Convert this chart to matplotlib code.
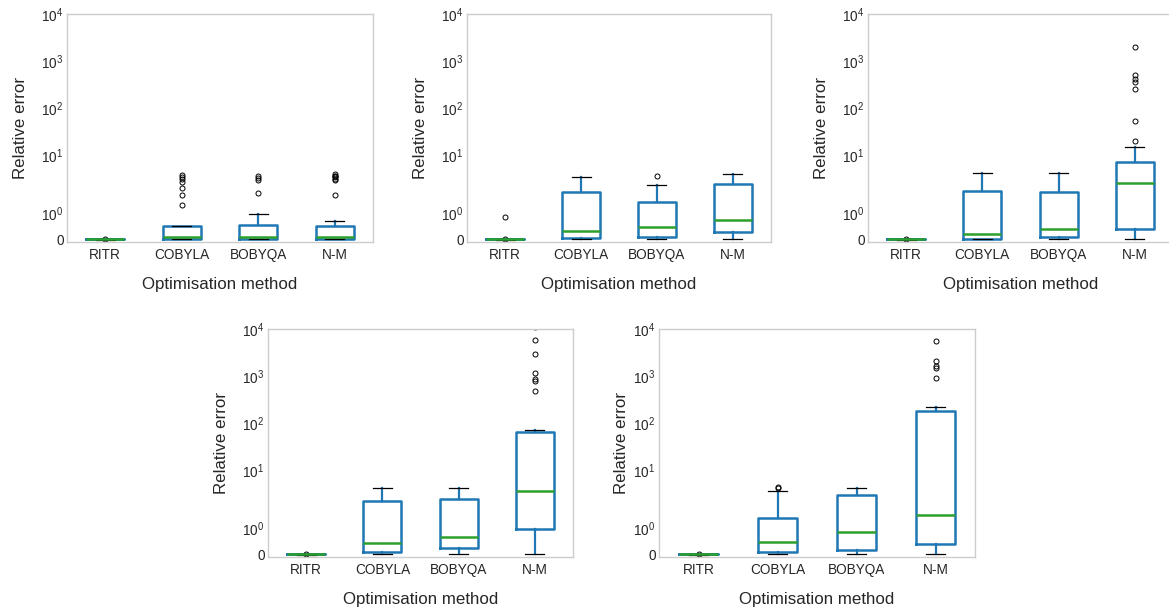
"""Box plots of relative error for four optimisation methods, five test cases."""
import matplotlib
matplotlib.use('Agg')
import matplotlib.pyplot as plt

BLUE = '#1f77b4'
GREEN = '#2ca02c'
TEXT = '#262626'
EDGE = '#cccccc'

W, H = 1169, 607
DPI = 100

plt.rcParams.update({
    'font.family': ['Liberation Sans', 'DejaVu Sans'],
    'mathtext.default': 'regular',
    'text.color': TEXT,
    'axes.labelcolor': TEXT,
    'xtick.color': TEXT,
    'ytick.color': TEXT,
    'xtick.major.size': 0,
    'ytick.major.size': 0,
    'xtick.minor.size': 0,
    'ytick.minor.size': 0,
    'xtick.major.pad': 4.5,
    'ytick.major.pad': 2.5,
    'xtick.labelsize': 9.8,
    'ytick.labelsize': 9.8,
    'axes.labelsize': 12.2,
    'axes.edgecolor': EDGE,
    'axes.linewidth': 1.0,
})

METHODS = ['RITR', 'COBYLA', 'BOBYQA', 'N-M']

# one row per test case, one entry per method
MEDIANS = [
    [0.02, 0.10, 0.10, 0.09],
    [0.02, 0.32, 0.47, 0.75],
    [0.02, 0.22, 0.40, 2.45],
    [0.02, 0.45, 0.69, 3.52],
    [0.02, 0.48, 0.86, 1.53],
]
Q1 = [
    [0.01, 0.03, 0.03, 0.03],
    [0.01, 0.05, 0.10, 0.28],
    [0.01, 0.03, 0.10, 0.40],
    [0.01, 0.09, 0.24, 0.99],
    [0.01, 0.09, 0.17, 0.41],
]
Q3 = [
    [0.03, 0.54, 0.55, 0.51],
    [0.03, 1.84, 1.46, 2.40],
    [0.03, 1.88, 1.83, 6.84],
    [0.03, 2.15, 2.42, 62.7],
    [0.03, 1.40, 2.84, 176.6],
]
WHIS_LO = [
    [0.0, 0.01, 0.01, 0.01],
    [0.0, 0.01, 0.01, 0.01],
    [0.0, 0.01, 0.01, 0.01],
    [0.0, 0.01, 0.01, 0.01],
    [0.0, 0.01, 0.01, 0.01],
]
WHIS_HI = [
    [0.04, 0.54, 1.00, 0.73],
    [0.04, 3.33, 2.25, 3.93],
    [0.04, 3.99, 3.99, 14.8],
    [0.04, 4.16, 4.16, 69.2],
    [0.04, 3.47, 4.16, 222.0],
]
FLIERS = [
    [[0.02], [3.74, 3.33, 3.0, 2.57, 2.0, 1.70, 1.34], [3.55, 3.2, 2.85, 1.79],
     [3.8, 3.6, 3.45, 3.3, 3.1, 2.95, 1.71]],
    [[0.02, 0.88], [], [3.56], []],
    [[0.03], [], [], [2009, 502, 413, 351, 253, 52.7, 20.1]],
    [[0.03], [], [], [11000, 5970, 2990, 1152, 860, 780, 482]],
    [[0.03], [4.36, 4.1], [], [5580, 2083, 1654, 1500, 900]],
]

YTICKS = [0, 1, 10, 100, 1000, 10000]
YTICKLABELS = ['0', r'$10^{0}$', r'$10^{1}$', r'$10^{2}$', r'$10^{3}$', r'$10^{4}$']

# axes boxes in pixels: left, right, top, bottom, ylabel offset
PANELS = [
    (67, 373, 14, 242, 39),
    (467, 771, 14, 242, 39),
    (868, 1173, 14, 242, 39),
    (268, 573, 329, 557, 39),
    (659, 975, 329, 557, 30),
]


def draw_panel(fig, i):
    left, right, top, bottom, ylab_off = PANELS[i]
    wpx, hpx = right - left, bottom - top
    ax = fig.add_axes([left / W, 1 - bottom / H, wpx / W, hpx / H])
    stats = []
    for j, name in enumerate(METHODS):
        stats.append(dict(label=name, med=MEDIANS[i][j], q1=Q1[i][j], q3=Q3[i][j],
                          whislo=WHIS_LO[i][j], whishi=WHIS_HI[i][j],
                          fliers=FLIERS[i][j]))
    ax.bxp(stats, widths=0.5,
           boxprops=dict(color=BLUE, lw=1.8),
           whiskerprops=dict(color=BLUE, lw=1.6),
           capprops=dict(color='k', lw=0.9),
           medianprops=dict(color=GREEN, lw=1.8),
           flierprops=dict(marker='o', markerfacecolor='none',
                           markeredgecolor='k', markersize=3.6,
                           markeredgewidth=0.7))
    ax.set_yscale('symlog', linthresh=2, linscale=1)
    ax.set_ylim(-0.09, 1e4)
    ax.set_xlim(0.5, 4.5)
    ax.set_yticks(YTICKS)
    ax.set_yticklabels(YTICKLABELS)
    ax.yaxis.set_minor_locator(matplotlib.ticker.NullLocator())
    ax.set_xlabel('Optimisation method')
    ax.set_ylabel('Relative error')
    ax.xaxis.set_label_coords(0.5, -35 / hpx)
    ax.yaxis.set_label_coords(-ylab_off / wpx, 0.5)
    return ax


fig = plt.figure(figsize=(W / DPI, H / DPI), dpi=DPI)
fig.patch.set_facecolor('white')
for i in range(len(PANELS)):
    draw_panel(fig, i)

fig.savefig('out.png', dpi=DPI, facecolor='white')
